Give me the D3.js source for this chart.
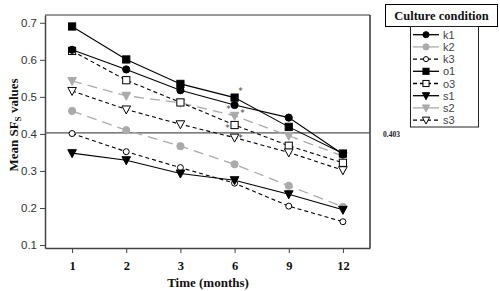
<!DOCTYPE html>
<html><head><meta charset="utf-8">
<script src="https://cdn.jsdelivr.net/npm/d3@7"></script>
<style>body{margin:0;background:#fff}svg{display:block}</style>
</head><body>
<script>
const months = ["1","2","3","6","9","12"];
const seriesNames = ["k1","k2","k3","o1","o3","s1","s2","s3"];
const k1 = [0.627,0.574,0.518,0.478,0.444,0.345];
const k2 = [0.462,0.410,0.367,0.318,0.260,0.203];
const k3 = [0.401,0.352,0.309,0.267,0.205,0.163];
const o1 = [0.690,0.601,0.535,0.498,0.419,0.347];
const o3 = [0.624,0.545,0.485,0.424,0.368,0.322];
const s1 = [0.348,0.329,0.293,0.275,0.237,0.195];
const s2 = [0.543,0.503,0.484,0.449,0.395,0.340];
const s3 = [0.516,0.466,0.426,0.390,0.350,0.302];
const yTicks = [0.1,0.2,0.3,0.4,0.5,0.6,0.7];
const refValue = 0.403;
const asteriskSeries = ["o1","k1","s2","o3","s3"]; // marked at month 6

const values = {k1,k2,k3,o1,o3,s1,s2,s3};
const style = {
  k1:{color:"#000",dash:null,shape:"circle",fill:true},
  k2:{color:"#aaa",dash:"10,6",shape:"circle",fill:true},
  k3:{color:"#000",dash:"4,3",shape:"circle",fill:false},
  o1:{color:"#000",dash:null,shape:"square",fill:true},
  o3:{color:"#000",dash:"4,3",shape:"square",fill:false},
  s1:{color:"#000",dash:null,shape:"tri",fill:true},
  s2:{color:"#aaa",dash:"10,6",shape:"tri",fill:true},
  s3:{color:"#000",dash:"4,3",shape:"tri",fill:false}
};
const legendDash = {k1:null,k2:null,k3:"4,3",o1:null,o3:"4,3",s1:null,s2:null,s3:"4,3"};

const W=500,H=291;
const L=45,R=370,T=15,B=248;
const svg=d3.select("body").append("svg").attr("width",W).attr("height",H);
const x=d3.scalePoint().domain(months).range([L,R]).padding(0.5);
const y=d3.scaleLinear().domain([0.092,0.721]).range([B,T]);

// frame
svg.append("line").attr("x1",L).attr("x2",R).attr("y1",T).attr("y2",T).attr("stroke","#777").attr("stroke-width",1.5);
svg.append("line").attr("x1",R).attr("x2",R).attr("y1",T).attr("y2",B).attr("stroke","#000").attr("stroke-width",1.2);

// y axis
const ya=svg.append("g").attr("transform",`translate(${L},0)`)
  .call(d3.axisLeft(y).tickValues(yTicks).tickFormat(d3.format(".1f")).tickSize(5).tickSizeOuter(0));
ya.select(".domain").attr("stroke","#444").attr("stroke-width",1.5);
ya.selectAll(".tick line").attr("stroke","#444");
ya.selectAll(".tick text").attr("font-family","Liberation Sans, Arial, sans-serif").attr("font-size",11.5).attr("fill","#333").attr("x",-8);

// x axis
const xa=svg.append("g").attr("transform",`translate(0,${B})`)
  .call(d3.axisBottom(x).tickSize(5).tickSizeOuter(0));
xa.select(".domain").attr("stroke","#444").attr("stroke-width",1.5);
xa.selectAll(".tick line").attr("stroke","#444");
xa.selectAll(".tick text").attr("font-family","Liberation Serif, Times New Roman, serif").attr("font-weight","bold").attr("font-size",12.5).attr("fill","#111").attr("y",13);

// reference line
svg.append("line").attr("x1",L).attr("x2",R).attr("y1",y(refValue)).attr("y2",y(refValue)).attr("stroke","#555").attr("stroke-width",1.2);
svg.append("text").attr("x",383).attr("y",y(refValue)+4).attr("font-family","Liberation Serif, serif").attr("font-weight","bold").attr("font-size",7.5).attr("fill","#222").text(d3.format(".3f")(refValue));

// titles
svg.append("text").attr("x",208).attr("y",287).attr("text-anchor","middle").attr("font-family","Liberation Serif, Times New Roman, serif").attr("font-weight","bold").attr("font-size",13).attr("fill","#111").text("Time (months)");
const yt=svg.append("text").attr("transform","translate(18,125) rotate(-90)").attr("text-anchor","middle").attr("font-family","Liberation Serif, Times New Roman, serif").attr("font-weight","bold").attr("font-size",13).attr("fill","#111");
yt.append("tspan").text("Mean SF");
yt.append("tspan").attr("font-size",9).attr("dy",3).text("S");
yt.append("tspan").attr("dy",-3).text(" values");

function marker(g,name,cx,cy,scale){
  const s=style[name];
  const fill=s.fill?s.color:"#fff";
  const k=scale||1;
  if(s.shape==="circle"){
    const r=(s.fill?3.6:3)*k;
    g.append("circle").attr("cx",cx).attr("cy",cy).attr("r",r).attr("fill",fill).attr("stroke",s.color).attr("stroke-width",1);
  } else if(s.shape==="square"){
    const h=3.6*k;
    g.append("rect").attr("x",cx-h).attr("y",cy-h).attr("width",2*h).attr("height",2*h).attr("fill",fill).attr("stroke",s.color).attr("stroke-width",1);
  } else {
    const w=4.3*k,h=3.5*k;
    g.append("path").attr("d",`M${cx-w},${cy-h}L${cx+w},${cy-h}L${cx},${cy+h+1}Z`).attr("fill",fill).attr("stroke",s.color).attr("stroke-width",1);
  }
}

const line=d3.line().x((d,i)=>x(months[i])).y(d=>y(d));
const drawOrder=["k2","s2","k3","o3","s3","s1","k1","o1"];
drawOrder.forEach(n=>{
  svg.append("path").attr("d",line(values[n])).attr("fill","none").attr("stroke",style[n].color).attr("stroke-width",n==="k2"||n==="s2"?1.3:1.1).attr("stroke-dasharray",style[n].dash);
});
drawOrder.forEach(n=>{
  const g=svg.append("g");
  values[n].forEach((v,i)=>marker(g,n,x(months[i]),y(v)));
});

// asterisks at month 6
const astOff={o1:[6,-8],k1:[-6,3],s2:[8,-4],o3:[-7,2],s3:[6,-1]};
asteriskSeries.forEach(n=>{
  const i=months.indexOf("6");
  svg.append("text").attr("x",x("6")+astOff[n][0]).attr("y",y(values[n][i])+astOff[n][1]+4).attr("text-anchor","middle")
    .attr("font-family","DejaVu Sans, sans-serif").attr("font-size",9).attr("fill","#444").text("*");
});

// legend
svg.append("rect").attr("x",385.5).attr("y",4.5).attr("width",112).attr("height",22).attr("fill","#fff").attr("stroke","#000").attr("stroke-width",1);
svg.append("text").attr("x",441.5).attr("y",20).attr("text-anchor","middle").attr("font-family","Liberation Serif, Times New Roman, serif").attr("font-weight","bold").attr("font-size",12.5).attr("fill","#111").text("Culture condition");
svg.append("rect").attr("x",410.5).attr("y",26.5).attr("width",68).attr("height",100.5).attr("fill","#fff").attr("stroke","#222").attr("stroke-width",1);
seriesNames.forEach((n,i)=>{
  const ly=34.7+i*12.2;
  const g=svg.append("g");
  g.append("line").attr("x1",413).attr("x2",439).attr("y1",ly).attr("y2",ly).attr("stroke",style[n].color).attr("stroke-width",1.3).attr("stroke-dasharray",legendDash[n]);
  marker(g,n,426,ly,0.85);
  g.append("text").attr("x",443).attr("y",ly+4).attr("font-family","Liberation Sans, Arial, sans-serif").attr("font-size",11).attr("fill","#444").text(n);
});
</script>
</body></html>
